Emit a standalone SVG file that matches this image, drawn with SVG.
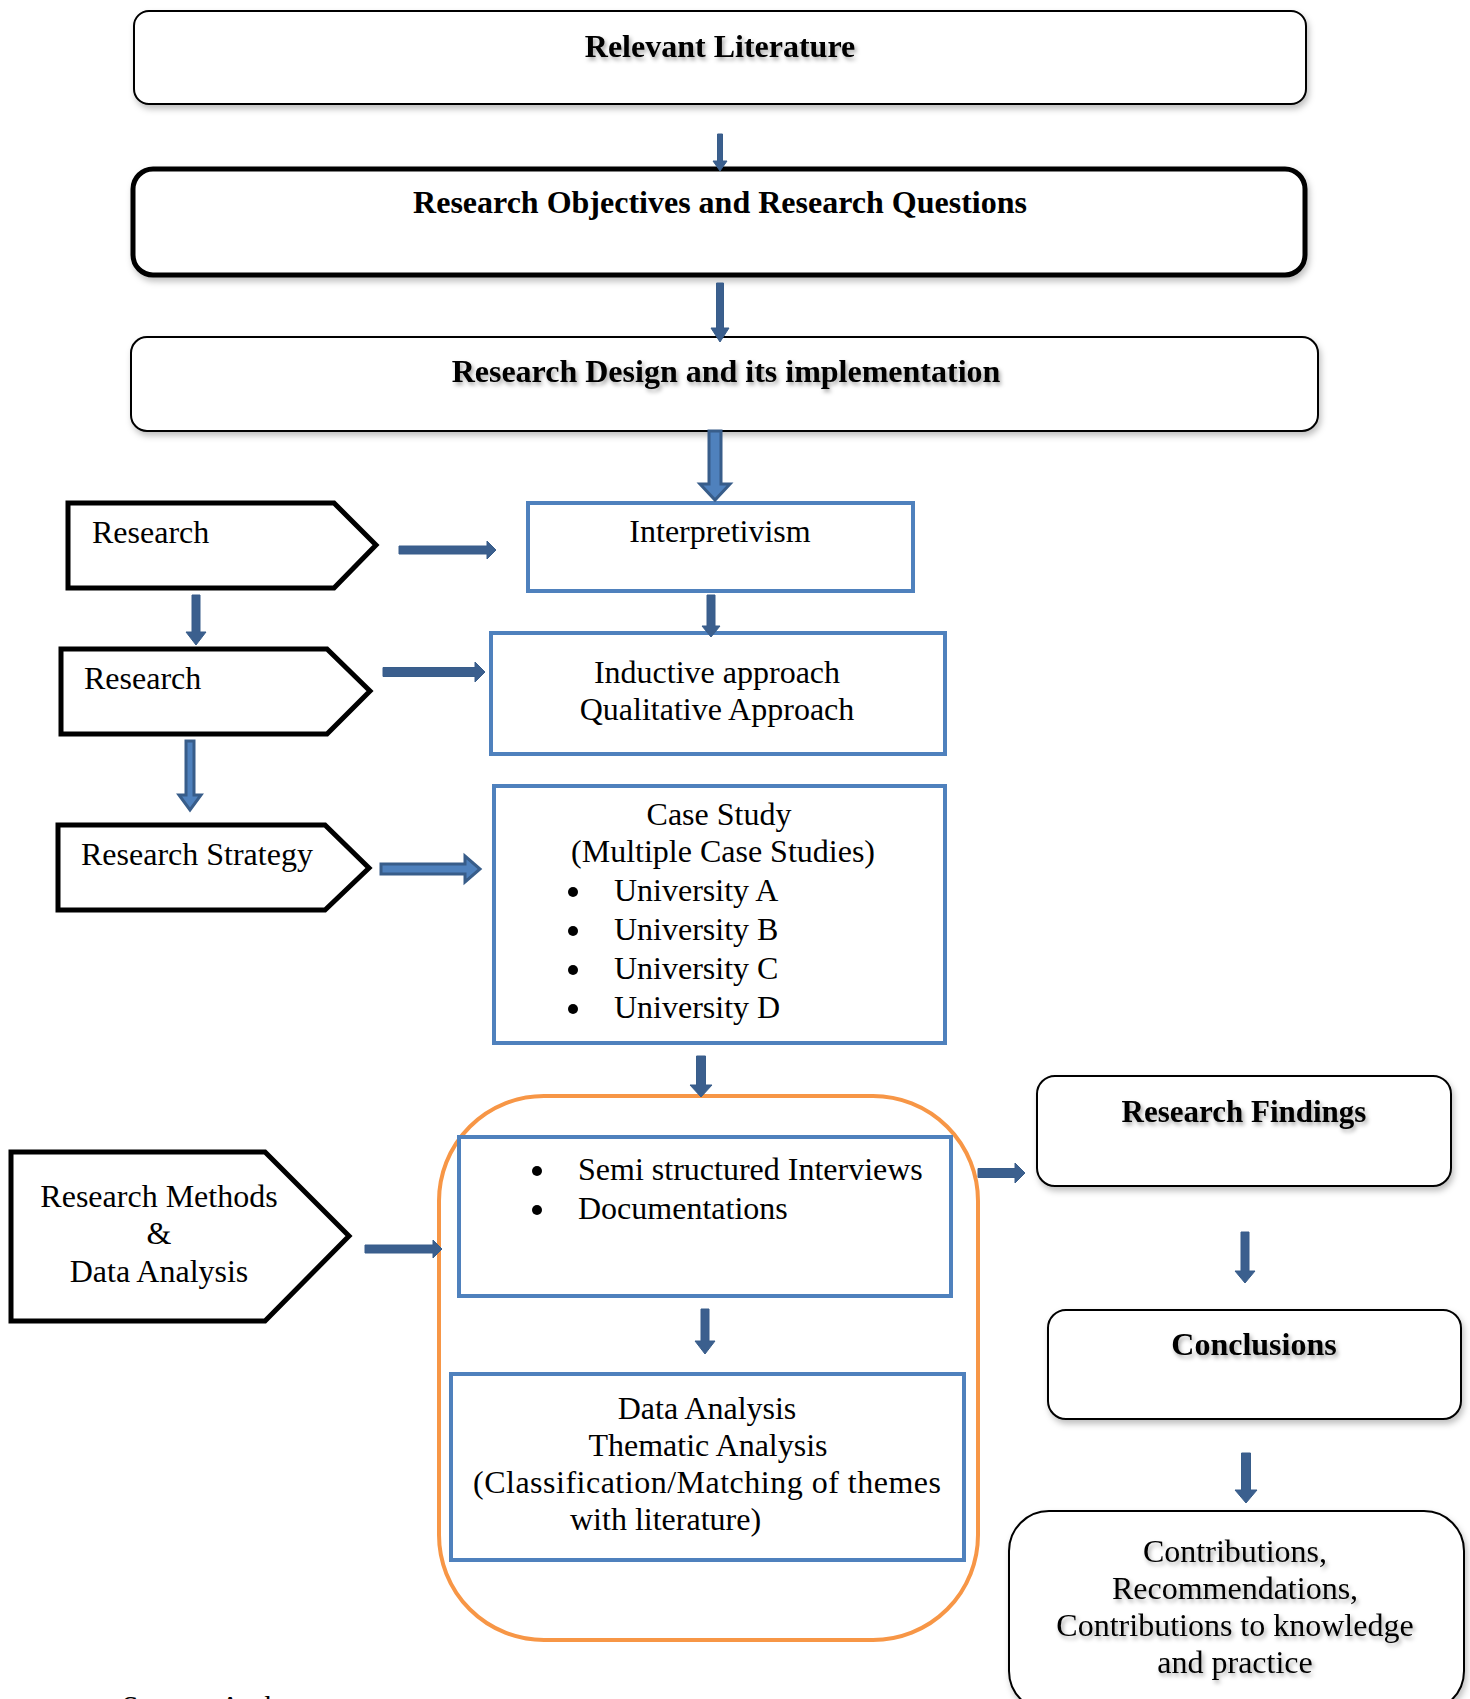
<svg xmlns="http://www.w3.org/2000/svg" width="1470" height="1699" viewBox="0 0 1470 1699">
<defs>
<filter id="bs" x="-5%" y="-20%" width="110%" height="150%">
<feDropShadow dx="2" dy="4" stdDeviation="3" flood-color="#000" flood-opacity="0.25"/>
</filter>
<filter id="ts" x="-10%" y="-30%" width="120%" height="170%">
<feDropShadow dx="2" dy="3" stdDeviation="2" flood-color="#000" flood-opacity="0.35"/>
</filter>
<style>
.bk{fill:#fff;stroke:#000;stroke-width:2}
.bk5{fill:#fff;stroke:#000;stroke-width:5}
.pent{fill:#fff;stroke:#000;stroke-width:5;stroke-linejoin:miter}
.blue{fill:#fff;stroke:#4F81BD;stroke-width:4}
.orange{fill:none;stroke:#F79646;stroke-width:4}
.arr{fill:#3B5F8E;stroke:#385D8A;stroke-width:1}
.arr2{fill:#4F81BD;stroke:#385D8A;stroke-width:3}
text{font-family:"Liberation Serif","Times New Roman",serif;fill:#000}
.t{font-size:32px}
.b{font-size:32px;font-weight:bold}
.c{text-anchor:middle}
</style>
</defs>

<g id="relevant-literature">
<rect class="bk" x="134" y="11" width="1172" height="93" rx="15" filter="url(#bs)"/>
<text class="b c" x="720" y="57" filter="url(#ts)">Relevant Literature</text>
</g>

<g id="objectives">
<rect class="bk5" x="133" y="169" width="1172" height="106" rx="20" filter="url(#bs)"/>
<text class="b c" x="720" y="213">Research Objectives and Research Questions</text>
</g>

<g id="design">
<rect class="bk" x="131" y="337" width="1187" height="94" rx="16" filter="url(#bs)"/>
<text class="b c" x="726" y="382" filter="url(#ts)">Research Design and its implementation</text>
</g>

<g id="research-1">
<polygon class="pent" points="68,503 334,503 376,545 334,588 68,588"/>
<text class="t" x="92" y="543">Research</text>
</g>

<g id="interpretivism">
<rect class="blue" x="528" y="503" width="385" height="88"/>
<text class="t c" x="720" y="542">Interpretivism</text>
</g>

<g id="research-2">
<polygon class="pent" points="61,649 327,649 370,691 327,734 61,734"/>
<text class="t" x="84" y="689">Research</text>
</g>

<g id="approach">
<rect class="blue" x="491" y="633" width="454" height="121"/>
<text class="t c" x="717" y="683">Inductive approach</text>
<text class="t c" x="717" y="720">Qualitative Approach</text>
</g>

<g id="research-strategy">
<polygon class="pent" points="58,825 325,825 369,868 325,910 58,910"/>
<text class="t" x="81" y="865">Research Strategy</text>
</g>

<g id="case-study">
<rect class="blue" x="494" y="786" width="451" height="257"/>
<text class="t c" x="719" y="825">Case Study</text>
<text class="t c" x="723" y="862">(Multiple Case Studies)</text>
<circle cx="573" cy="892" r="5"/>
<text class="t" x="614" y="901">University A</text>
<circle cx="573" cy="931" r="5"/>
<text class="t" x="614" y="940">University B</text>
<circle cx="573" cy="970" r="5"/>
<text class="t" x="614" y="979">University C</text>
<circle cx="573" cy="1009" r="5"/>
<text class="t" x="614" y="1018">University D</text>
</g>

<g id="methods-group">
<rect class="orange" x="439" y="1096" width="539" height="544" rx="105"/>
</g>

<g id="research-methods">
<polygon class="pent" points="11,1152 265,1152 349,1236 265,1321 11,1321"/>
<text class="t c" x="159" y="1207">Research Methods</text>
<text class="t c" x="159" y="1244">&amp;</text>
<text class="t c" x="159" y="1282">Data Analysis</text>
</g>

<g id="interviews">
<rect class="blue" x="459" y="1137" width="492" height="159"/>
<circle cx="537" cy="1171" r="5"/>
<text class="t" x="578" y="1180">Semi structured Interviews</text>
<circle cx="537" cy="1210" r="5"/>
<text class="t" x="578" y="1219">Documentations</text>
</g>

<g id="data-analysis">
<rect class="blue" x="451" y="1374" width="513" height="186"/>
<text class="t c" x="707" y="1419">Data Analysis</text>
<text class="t c" x="708" y="1456">Thematic Analysis</text>
<text class="t" x="473" y="1493" textLength="468" lengthAdjust="spacing">(Classification/Matching  of  themes</text>
<text class="t" x="570" y="1530">with literature)</text>
</g>

<g id="findings">
<rect class="bk" x="1037" y="1076" width="414" height="110" rx="18" filter="url(#bs)"/>
<text class="b c" x="1244" y="1122" style="font-size:31px" filter="url(#ts)">Research Findings</text>
</g>

<g id="conclusions">
<rect class="bk" x="1048" y="1310" width="413" height="109" rx="18" filter="url(#bs)"/>
<text class="b c" x="1254" y="1355" filter="url(#ts)">Conclusions</text>
</g>

<g id="contributions">
<rect class="bk" x="1009" y="1511" width="455" height="200" rx="40" filter="url(#bs)"/>
<g filter="url(#ts)">
<text class="t c" x="1235" y="1562">Contributions,</text>
<text class="t c" x="1235" y="1599">Recommendations,</text>
<text class="t c" x="1235" y="1636">Contributions to knowledge</text>
<text class="t c" x="1235" y="1673">and practice</text>
</g>
</g>

<g id="source">
<text class="t" x="122" y="1716" style="font-size:30px">Source: Author</text>
</g>

<g id="connectors">
<polygon class="arr" points="717.5,134 722.5,134 722.5,161 727,161 720,171 713,161 717.5,161"/>
<polygon class="arr" points="716.5,283 723.5,283 723.5,328 729,328 720,342 711,328 716.5,328"/>
<polygon class="arr2" points="709,431 721,431 721,484 730,484 715,500 700,484 709,484"/>
<polygon class="arr" points="707,595 715,595 715,626 720,626 711,637 702,626 707,626"/>
<polygon class="arr" points="192,595 200,595 200,632 206,632 196,645 186,632 192,632"/>
<polygon class="arr2" points="186,741 194,741 194,795 201,795 190,810 179,795 186,795"/>
<polygon class="arr" points="696.5,1056 705.5,1056 705.5,1085 712,1085 701,1097 690,1085 696.5,1085"/>
<polygon class="arr" points="701,1309 709,1309 709,1341 715,1341 705,1354 695,1341 701,1341"/>
<polygon class="arr" points="1241,1232 1249,1232 1249,1271 1255,1271 1245,1283 1235,1271 1241,1271"/>
<polygon class="arr" points="1241.5,1453 1250.5,1453 1250.5,1490 1257,1490 1246,1503 1235,1490 1241.5,1490"/>
<polygon class="arr" points="399,546 487,546 487,541 496,550 487,559 487,554 399,554"/>
<polygon class="arr" points="383,667.5 475,667.5 475,662 485,672 475,682 475,676.5 383,676.5"/>
<polygon class="arr2" points="381,864 465,864 465,856 480,869 465,882 465,874 381,874"/>
<polygon class="arr" points="365,1245 433,1245 433,1240 442,1249 433,1258 433,1253 365,1253"/>
<polygon class="arr" points="978,1168.5 1015,1168.5 1015,1163 1025,1173 1015,1183 1015,1177.5 978,1177.5"/>
</g>
</svg>
